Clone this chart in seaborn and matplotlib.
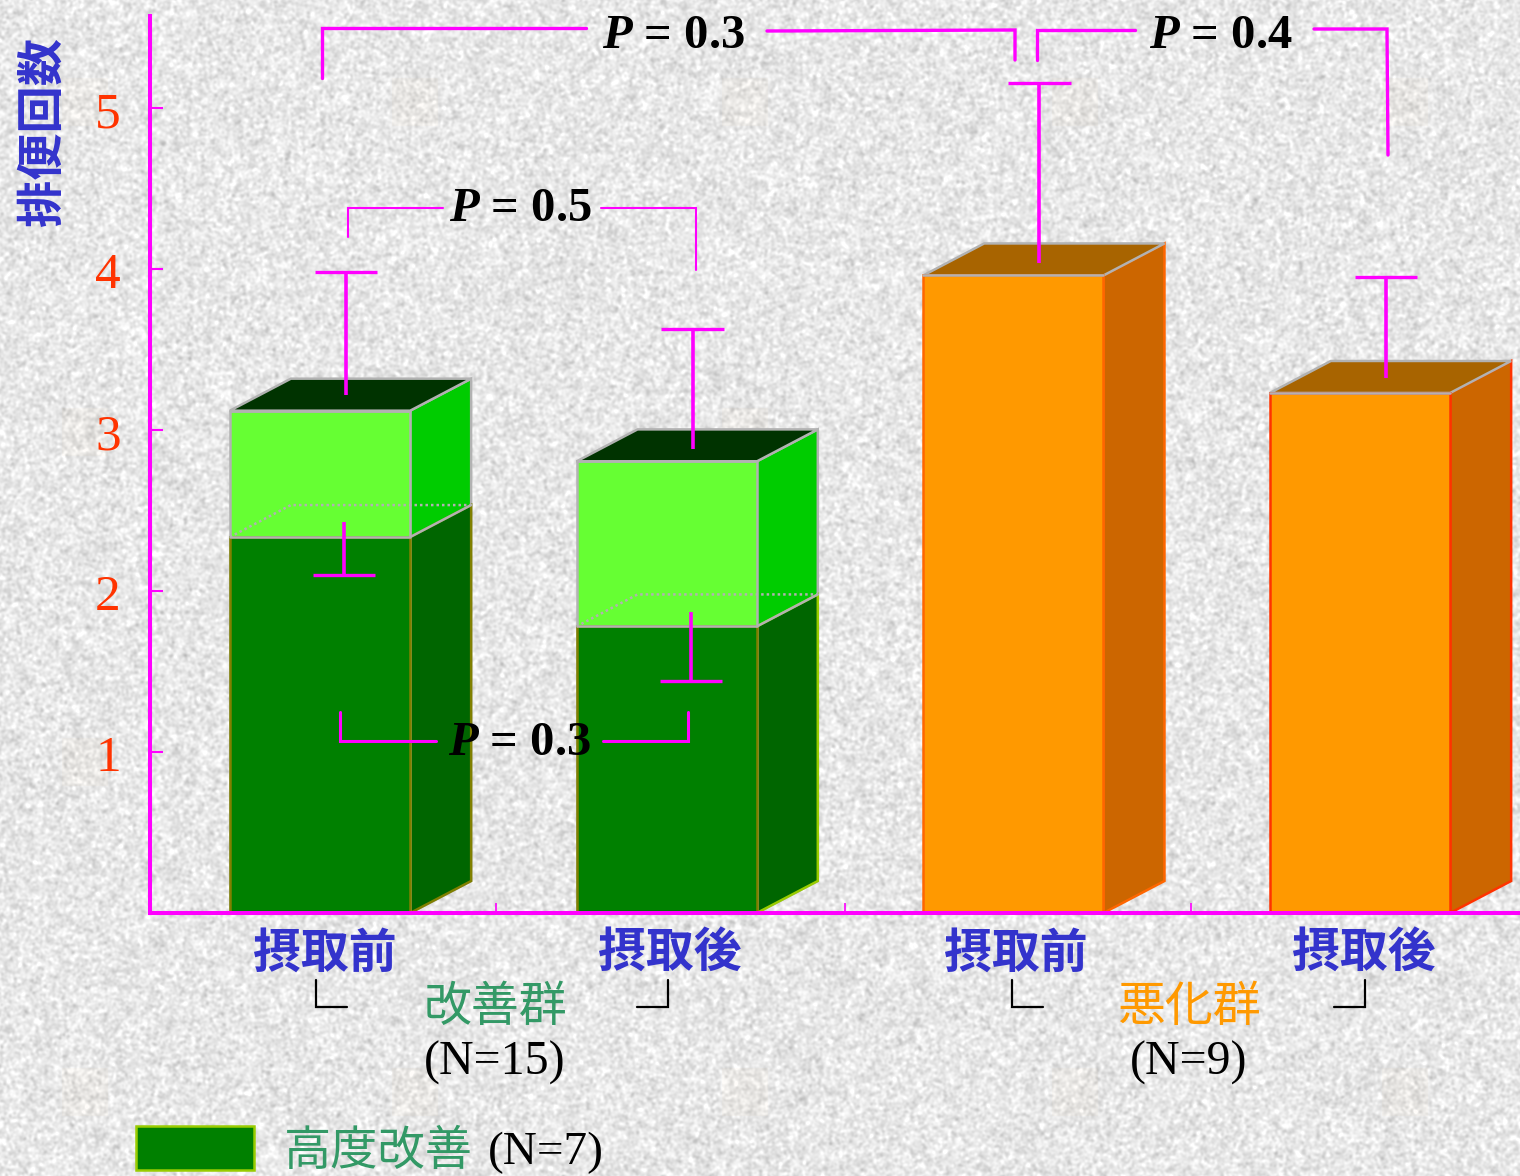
#!/usr/bin/env python
# -*- coding: utf-8 -*-
import numpy as np
import pandas as pd
import seaborn as sns
import matplotlib.pyplot as plt
from matplotlib.patches import Polygon, Rectangle
from matplotlib.transforms import ScaledTranslation

# Chart values
bars = ['imp_pre', 'imp_post', 'wor_pre', 'wor_post']
phase_labels = ['摂取前', '摂取後', '摂取前', '摂取後']
total_values = [3.12, 2.805, 3.96, 3.23]
high_values = [2.335, 1.78, np.nan, np.nan]
err_start = [3.22, 2.88, 4.04, 3.32]
err_end = [3.98, 3.63, 5.155, 3.95]
high_err_start = [2.43, 1.87]
high_err_end = [2.10, 1.44]
y_ticks = [1, 2, 3, 4, 5]

# Colours for each bar
front_colors = ['#66FF33', '#66FF33', '#FF9900', '#FF9900']
side_colors = ['#00CC00', '#00CC00', '#CC6600', '#CC6600']
top_colors = ['#003300', '#003300', '#A86400', '#A86400']
edge_colors = ['#B2B2B2', '#B2B2B2', '#FF6600', '#FF3300']
high_side_edges = ['#808000', '#99CC00']

MAGENTA = '#FF00FF'
BLUE = '#3333CC'
SEA = '#339966'
SERIF = 'Liberation Serif'
CJK = 'Noto Sans CJK JP'

# Depth of the fake 3D bars, in data units
DX = 61 / 346.67
DY = 32 / 161

sns.set_theme(style='white')
plt.rcParams['font.family'] = [CJK, 'DejaVu Sans']
plt.rcParams['mathtext.fontset'] = 'custom'
plt.rcParams['mathtext.bfit'] = 'Liberation Serif:italic:bold'
plt.rcParams['mathtext.rm'] = 'Liberation Serif:bold'

W, H = 1520, 1176
fig = plt.figure(figsize=(W / 100, H / 100), dpi=100)

# Speckled paper background
bg = fig.add_axes([0, 0, 1, 1], zorder=0)
rng = np.random.default_rng(3)
noise = rng.normal(size=(H, W))
fy = np.fft.fftfreq(H)[:, None]
fx = np.fft.fftfreq(W)[None, :]
blur = np.exp(-2 * (np.pi ** 2) * (fx ** 2 + fy ** 2) * 1.3 ** 2)
noise = np.fft.ifft2(np.fft.fft2(noise) * blur).real
noise = noise / noise.std()
paper = np.clip(232 + 10 * noise, 180, 255) / 255
paper = np.dstack([paper, paper, paper])
# faint warm watermark squares repeated over the paper
for ty in range(78, H, 330):
    for tx in range(62, W, 330):
        paper[ty:ty + 48, tx:tx + 46, 2] *= 0.98
        paper[ty:ty + 48, tx:tx + 46, 1] *= 0.992
bg.imshow(paper, aspect='auto', interpolation='bilinear')
bg.axis('off')

# Main chart axes
ax = fig.add_axes([150 / W, (H - 913) / H, 1370 / W, 897 / H],
                  facecolor='none', zorder=1)
df = pd.DataFrame({'bar': bars, 'total': total_values, 'high': high_values})

sns.barplot(data=df, x='bar', y='total', hue='bar', order=bars, hue_order=bars,
            palette=front_colors, width=0.52, saturation=1, legend=False,
            ax=ax, zorder=3)
n_total = len(ax.patches)
sns.barplot(data=df, x='bar', y='high', order=bars, color='#008000',
            width=0.52, saturation=1, ax=ax, zorder=4)
total_patches = list(ax.patches)[:n_total]
high_patches = list(ax.patches)[n_total:]

for i, p in enumerate(total_patches):
    x0, x1 = p.get_x(), p.get_x() + p.get_width()
    top = p.get_height()
    p.set_edgecolor(edge_colors[i])
    p.set_linewidth(1.8)
    # side and top faces
    ax.add_patch(Polygon([(x1, 0), (x1 + DX, DY), (x1 + DX, top + DY), (x1, top)],
                         fc=side_colors[i], ec=edge_colors[i], lw=1.8, zorder=2,
                         clip_on=False))
    ax.add_patch(Polygon([(x0, top), (x0 + DX, top + DY), (x1 + DX, top + DY),
                          (x1, top)],
                         fc=top_colors[i], ec='#B2B2B2', lw=1.8, zorder=2,
                         clip_on=False))
    ax.plot([x0, x1], [top, top], color='#B2B2B2', lw=1.8, zorder=5)

for i, p in enumerate(high_patches):
    if not np.isfinite(p.get_height()) or p.get_height() == 0:
        continue
    x0, x1 = p.get_x(), p.get_x() + p.get_width()
    h = p.get_height()
    p.set_edgecolor('#808000')
    p.set_linewidth(1.8)
    ax.add_patch(Polygon([(x1, 0), (x1 + DX, DY), (x1 + DX, h + DY), (x1, h)],
                         fc='#006600', ec=high_side_edges[i], lw=1.8, zorder=2.5,
                         clip_on=False))
    # line where the dark block ends, and its dotted hidden top
    ax.plot([x0, x1], [h, h], color='#B2B2B2', lw=1.8, zorder=5)
    ax.plot([x0, x0 + DX, x1 + DX], [h, h + DY, h + DY], color='#B2B2B2', lw=1.8,
            ls=(0, (1, 1.2)), zorder=5)
    ax.plot([x1, x1 + DX], [h, h + DY], color='#B2B2B2', lw=1.8, zorder=5)

# Error bars sit a little right of the bar centres
positions = np.arange(len(bars))
ax.vlines(positions + 0.075, err_start, err_end, color=MAGENTA, lw=2.6, zorder=6)
ax.hlines(err_end, positions + 0.075 - 0.09, positions + 0.075 + 0.09,
          color=MAGENTA, lw=2.4, zorder=6)
ax.vlines(positions[:2] + 0.07, high_err_start, high_err_end, color=MAGENTA,
          lw=2.6, zorder=6)
ax.hlines(high_err_end, positions[:2] + 0.07 - 0.09, positions[:2] + 0.07 + 0.09,
          color=MAGENTA, lw=2.4, zorder=6)

ax.set_xlim(-170 / 346.67, 1200 / 346.67)
ax.set_ylim(0, 897 / 161)
sns.despine(ax=ax)
for side in ['left', 'bottom']:
    ax.spines[side].set_color(MAGENTA)
    ax.spines[side].set_linewidth(2.9)
    ax.spines[side].set_zorder(7)
ax.set_xlabel('')
ax.set_ylabel('')

ax.set_yticks(y_ticks)
ax.set_yticklabels([str(v) for v in y_ticks], family=SERIF, fontsize=37,
                   color='#FF3300')
ax.tick_params(axis='y', direction='in', length=9, width=1.5, color=MAGENTA,
               pad=21, left=True)
# digits sit slightly below their ticks in the original
nudge = ScaledTranslation(0, -1.5 / 100, fig.dpi_scale_trans)
for tick in ax.yaxis.get_major_ticks():
    tick.label1.set_transform(tick.label1.get_transform() + nudge)
ax.set_xticks(positions + np.array([0.014, 0.008, 0.008, 0.011]))
ax.set_xticklabels(phase_labels, family=CJK, weight='bold', fontsize=34.5, color=BLUE)
ax.tick_params(axis='x', length=0, pad=11)
ax.set_xticks([0.508, 1.513, 2.513], minor=True)
ax.tick_params(axis='x', which='minor', direction='in', length=7, width=1.2,
               color=MAGENTA, bottom=True)

# Overlay in picture pixels for the brackets and the captions
ov = fig.add_axes([0, 0, 1, 1], facecolor='none', zorder=2)
ov.set_xlim(0, W)
ov.set_ylim(H, 0)
ov.axis('off')

brackets = [
    ([322, 322, 586], [78, 28, 28], 2.4),
    ([767, 1015, 1015], [31, 30, 60], 2.4),
    ([1037, 1037, 1135], [60, 30, 30], 2.4),
    ([1314, 1387, 1388], [29, 29, 155], 2.4),
    ([348, 348, 443], [237, 208, 208], 1.5),
    ([601, 696, 696], [208, 208, 270], 1.5),
    ([340, 340, 436], [712, 741, 741], 2.2),
    ([603, 688, 688], [741, 741, 712], 2.2),
]
for xs, ys, lw in brackets:
    ov.plot(xs, ys, color=MAGENTA, lw=lw, solid_joinstyle='miter')

p_labels = [(673, 36, '0.3'), (1221, 36, '0.4'), (520, 209, '0.5'), (519, 743, '0.3')]
for x, y, val in p_labels:
    ov.text(x, y, r'$\mathbfit{P}$ = ' + val, family=SERIF, weight='bold',
            fontsize=35, color='black', ha='center', va='center')

# Small black corner marks under the phase labels
corners = [
    ([316, 316, 347], [980, 1007, 1007]),
    ([668, 668, 637], [980, 1007, 1007]),
    ([1012, 1012, 1043], [980, 1007, 1007]),
    ([1365, 1365, 1334], [980, 1007, 1007]),
]
for xs, ys in corners:
    ov.plot(xs, ys, color='black', lw=1.6, solid_joinstyle='miter')

ov.text(43, 131, '排便回数', family=CJK, weight='bold', fontsize=34, color=BLUE,
        rotation=90, ha='center', va='center')
ov.text(495, 1007, '改善群', family=CJK, fontsize=34.5, color=SEA, ha='center', va='center')
ov.text(1189, 1007, '悪化群', family=CJK, fontsize=34.5, color='#FF9900', ha='center',
        va='center')
ov.text(495, 1063, '(N=15)', family=SERIF, fontsize=34.5, color='black', ha='center',
        va='center')
ov.text(1189, 1063, '(N=9)', family=SERIF, fontsize=34.5, color='black', ha='center',
        va='center')

# Legend row at the bottom edge
ov.add_patch(Rectangle((136, 1126), 118, 44, fc='#008000', ec='#99CC00', lw=1.8))
ov.text(284, 1151.5, '高度改善', family=CJK, fontsize=34, color=SEA, ha='left', va='center')
ov.text(488, 1153, '(N=7)', family=SERIF, fontsize=34, color='black', ha='left',
        va='center')

fig.savefig('out.png', dpi=100)
